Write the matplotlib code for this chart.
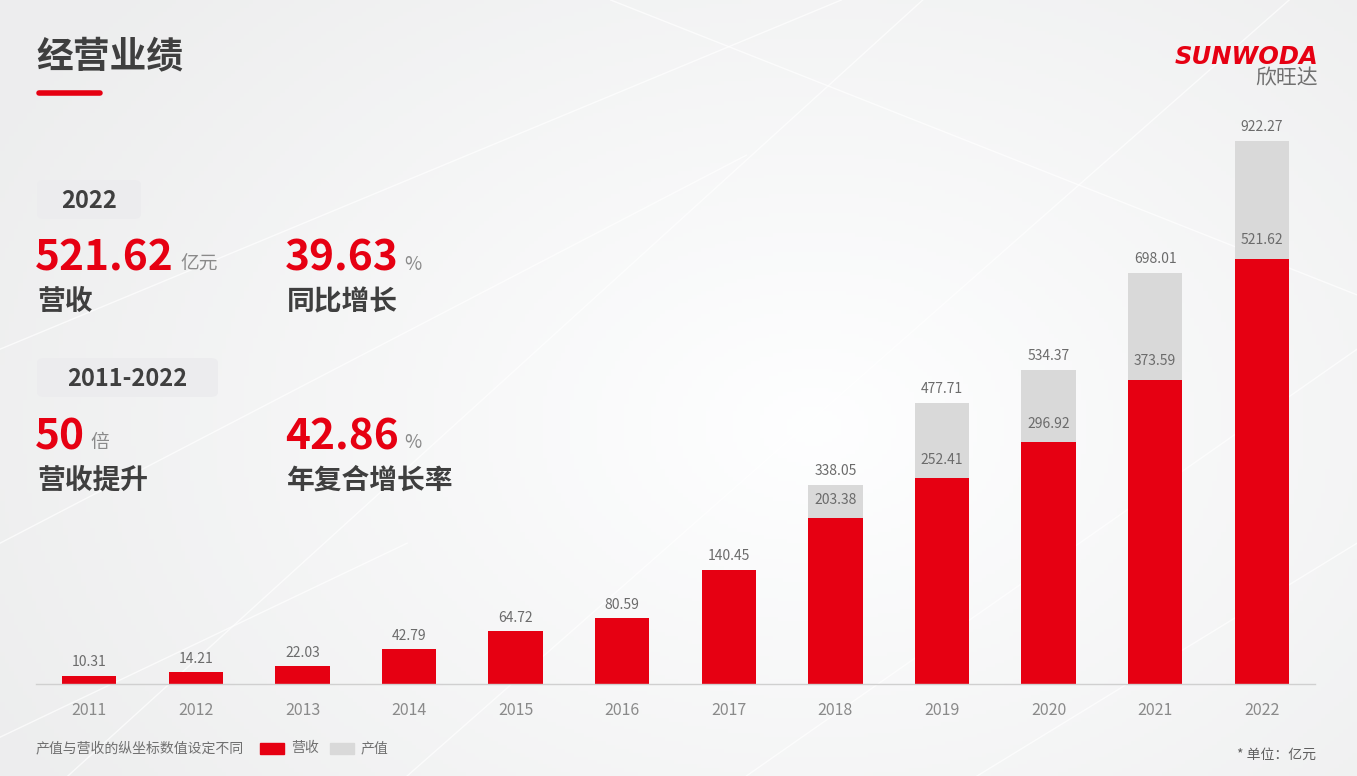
import numpy as np
import matplotlib
matplotlib.use("Agg")
import matplotlib.pyplot as plt
from matplotlib.patches import FancyBboxPatch, Rectangle
from matplotlib.lines import Line2D

plt.rcParams["font.family"] = ["Noto Sans CJK SC", "DejaVu Sans"]

# 数据（单位：亿元）
years = ["2011", "2012", "2013", "2014", "2015", "2016",
         "2017", "2018", "2019", "2020", "2021", "2022"]
revenue = [10.31, 14.21, 22.03, 42.79, 64.72, 80.59,
           140.45, 203.38, 252.41, 296.92, 373.59, 521.62]
output_value = [None, None, None, None, None, None,
                None, 338.05, 477.71, 534.37, 698.01, 922.27]

RED = "#e60012"
GREY_BAR = "#d9d9d9"
DARK = "#3f3f3f"
LABEL = "#6b6b6b"

W, H = 1357, 776
fig = plt.figure(figsize=(W / 100, H / 100), dpi=100)
fig.patch.set_facecolor("#f4f5f7")


def fx(px):
    return px / W


def fy(py):
    return 1 - py / H


# 背景：浅色渐变 + 斜线
bg = fig.add_axes([0, 0, 1, 1], zorder=-10)
gx = np.linspace(0, 1, 300)
gy = np.linspace(0, 1, 200)
GX, GY = np.meshgrid(gx, gy)
grad = 0.935 + 0.065 * np.clip(1 - np.hypot(GX - 0.6, (GY - 0.45) * 0.8) * 1.5, 0, 1)
bg.imshow(np.dstack([grad * 0.996, grad * 0.998, grad]), extent=[0, 1, 0, 1],
          aspect="auto", origin="lower")
for (x0, y0, x1, y1) in [(0.0, 0.55, 0.62, 1.0), (0.05, 0.0, 0.68, 1.0),
                         (0.30, 0.0, 0.95, 1.0), (0.45, 1.0, 1.0, 0.62),
                         (0.0, 0.30, 0.55, 0.80), (0.72, 0.0, 1.0, 0.30),
                         (0.0, 0.05, 0.30, 0.30), (0.55, 0.0, 1.0, 0.55)]:
    bg.plot([x0, x1], [y0, y1], color="white", lw=1.0, alpha=0.7)
bg.set_xlim(0, 1)
bg.set_ylim(0, 1)
bg.axis("off")

# 柱状图（营收与产值使用不同纵轴）
left, right, base, top = 36, 1315, 684, 100
ax = fig.add_axes([fx(left), fy(base), fx(right - left), (base - top) / H])
ax2 = ax.twinx()
ax.set_zorder(2)
ax2.set_zorder(1)
ax.patch.set_visible(False)

x = np.arange(len(years))
bw = 0.51
ov = np.array([v if v is not None else np.nan for v in output_value], dtype=float)
ax2.bar(x, ov, width=bw, color=GREY_BAR, zorder=1)
ax.bar(x, revenue, width=bw, color=RED, zorder=2)

ax.set_ylim(0, 584 * 1.227)
ax2.set_ylim(0, 584 * 1.70)
ax.set_xlim(-0.5, len(years) - 0.5)

for i, v in enumerate(revenue):
    if np.isnan(ov[i]):
        ax.text(i, v + 8, f"{v:.2f}", ha="center", va="bottom",
                fontsize=10, color=LABEL)
    else:
        ax.text(i, v + 14, f"{v:.2f}", ha="center", va="bottom",
                fontsize=10, color=LABEL)
        ax2.text(i, ov[i] + 12, f"{ov[i]:.2f}", ha="center", va="bottom",
                 fontsize=10, color=LABEL)

for a in (ax, ax2):
    for s in a.spines.values():
        s.set_visible(False)
    a.set_yticks([])
ax.spines["bottom"].set_visible(True)
ax.spines["bottom"].set_color("#d0d0d0")
ax.spines["bottom"].set_linewidth(1)
ax.set_xticks(x)
ax.set_xticklabels(years, fontsize=11.5, color="#8a8a8a", fontweight="light")
ax.tick_params(axis="x", length=0, pad=13)

# 标题
fig.text(fx(36), fy(57), "经营业绩", fontsize=26.5, fontweight="bold",
         color=DARK, va="center", ha="left")
fig.add_artist(Line2D([fx(39), fx(100)], [fy(93), fy(93)], color=RED,
                      lw=4, solid_capstyle="round"))


def tag_box(x0, y0, x1, y1, label):
    box = FancyBboxPatch((fx(x0), fy(y1)), fx(x1 - x0), (y1 - y0) / H,
                         boxstyle="round,pad=0,rounding_size=0.006",
                         transform=fig.transFigure, facecolor="#ececee",
                         edgecolor="none")
    fig.add_artist(box)
    fig.text(fx((x0 + x1) / 2), fy((y0 + y1) / 2 + 1), label, fontsize=17,
             fontweight="bold", color=DARK, ha="center", va="center")


tag_box(37, 180, 141, 219, "2022")
tag_box(37, 358, 218, 397, "2011-2022")


def kpi(x0, y_num, number, unit, unit_x, caption, y_cap):
    fig.text(fx(x0 - 2), fy(y_num), number, fontsize=30.5, fontweight="bold",
             color=RED, ha="left", va="center")
    fig.text(fx(unit_x), fy(y_num + 5), unit, fontsize=13.5, color="#8a8a8a",
             ha="left", va="center")
    fig.text(fx(x0), fy(y_cap), caption, fontsize=20, fontweight="bold",
             color=DARK, ha="left", va="center")


kpi(37, 259, "521.62", "亿元", 180, "营收", 302)
kpi(287, 259, "39.63", "%", 404, "同比增长", 302)
kpi(37, 437, "50", "倍", 90, "营收提升", 481)
kpi(287, 437, "42.86", "%", 404, "年复合增长率", 481)

# Logo
fig.text(fx(1318), fy(57), "SUNWODA", fontsize=17.5, fontweight="bold",
         style="italic", color=RED, ha="right", va="center",
         family=["DejaVu Sans"])
fig.text(fx(1318), fy(78), "欣旺达", fontsize=15, color="#707070",
         ha="right", va="center", style="italic")

# 底部图例与注释
fig.text(fx(36), fy(748), "产值与营收的纵坐标数值设定不同", fontsize=10,
         color="#707070", ha="left", va="center")
fig.add_artist(Rectangle((fx(260), fy(754)), fx(24), 11 / H,
                         transform=fig.transFigure, color=RED))
fig.text(fx(291), fy(748), "营收", fontsize=10, color="#707070",
         ha="left", va="center")
fig.add_artist(Rectangle((fx(330), fy(754)), fx(24), 11 / H,
                         transform=fig.transFigure, color=GREY_BAR))
fig.text(fx(361), fy(748), "产值", fontsize=10, color="#707070",
         ha="left", va="center")
fig.text(fx(1316), fy(755), "* 单位：亿元", fontsize=10, color="#606060",
         ha="right", va="center")

fig.savefig("out.png", dpi=100, facecolor=fig.get_facecolor())
